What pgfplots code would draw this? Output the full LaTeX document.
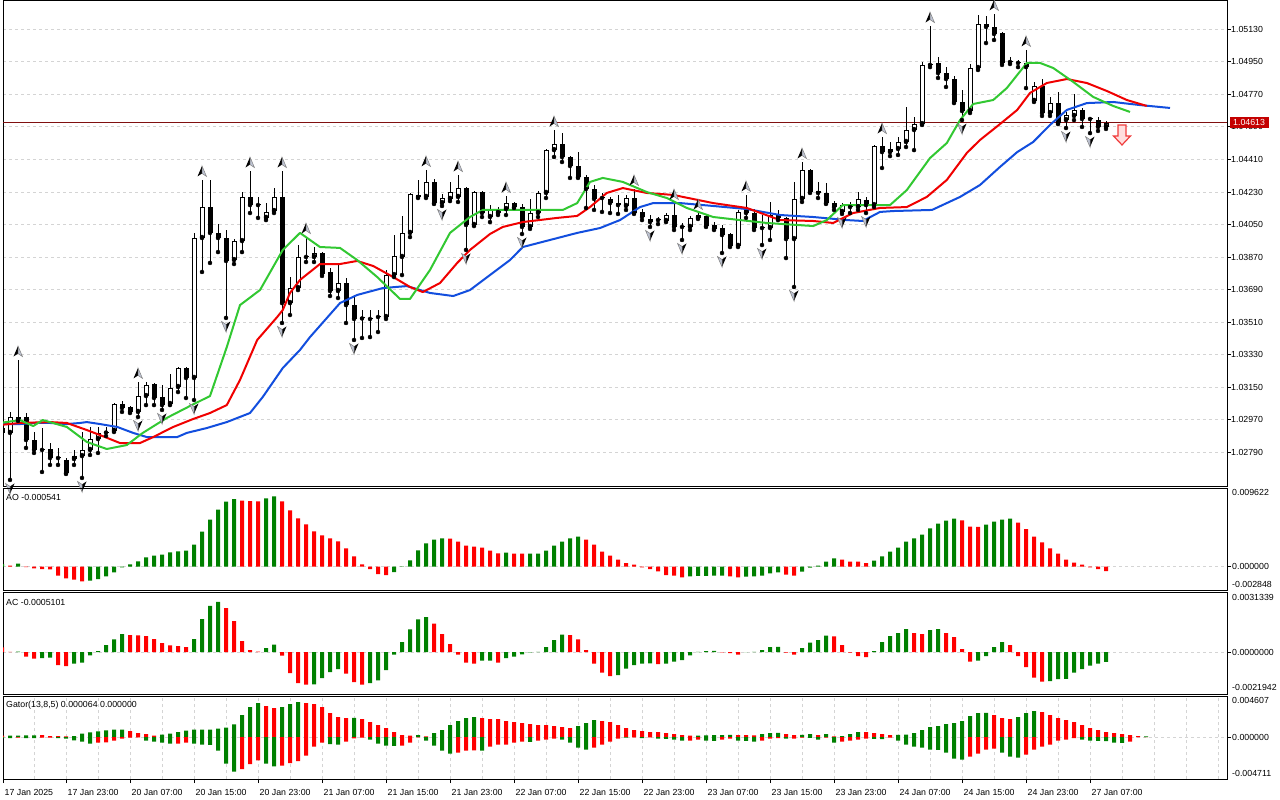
\documentclass[border=0pt]{standalone}
\usepackage{fontspec}
\setmainfont{Liberation Sans}
\usepackage{pgfplots}
\usepackage{pgfplotstable}
\pgfplotsset{compat=1.18}
\definecolor{jawblue}{RGB}{18,78,222}
\definecolor{teethred}{RGB}{240,0,0}
\definecolor{lipsgreen}{RGB}{50,200,50}
\definecolor{mtgreen}{RGB}{0,128,0}
\definecolor{mtred}{RGB}{255,0,0}
\definecolor{gridgray}{RGB}{212,212,212}
\definecolor{pricered}{RGB}{196,0,0}
\definecolor{priceline}{RGB}{128,16,16}
\definecolor{fracgray}{RGB}{190,196,212}
\definecolor{sellred}{RGB}{240,60,60}
\definecolor{sellpink}{RGB}{255,222,222}
\newcommand\tl{\fontsize{8.8}{10}\selectfont}

\pgfdeclareplotmark{fracup}{%
  \pgfpathmoveto{\pgfqpoint{0pt}{14pt}}\pgfpathlineto{\pgfqpoint{-4.5pt}{3.5pt}}\pgfpathlineto{\pgfqpoint{0pt}{6.5pt}}\pgfpathclose
  \pgfsetfillcolor{black}\pgfusepathqfill
  \pgfpathmoveto{\pgfqpoint{0pt}{14pt}}\pgfpathlineto{\pgfqpoint{4.5pt}{3.5pt}}\pgfpathlineto{\pgfqpoint{0pt}{6.5pt}}\pgfpathclose
  \pgfsetfillcolor{fracgray}\pgfsetstrokecolor{gray}\pgfsetlinewidth{0.5pt}\pgfusepathqfillstroke}
\pgfdeclareplotmark{fracdn}{%
  \pgfpathmoveto{\pgfqpoint{0pt}{-14pt}}\pgfpathlineto{\pgfqpoint{4.5pt}{-3.5pt}}\pgfpathlineto{\pgfqpoint{0pt}{-6.5pt}}\pgfpathclose
  \pgfsetfillcolor{black}\pgfusepathqfill
  \pgfpathmoveto{\pgfqpoint{0pt}{-14pt}}\pgfpathlineto{\pgfqpoint{-4.5pt}{-3.5pt}}\pgfpathlineto{\pgfqpoint{0pt}{-6.5pt}}\pgfpathclose
  \pgfsetfillcolor{fracgray}\pgfsetstrokecolor{gray}\pgfsetlinewidth{0.5pt}\pgfusepathqfillstroke}
\pgfdeclareplotmark{sellarrow}{%
  \pgfpathmoveto{\pgfqpoint{-4pt}{0pt}}\pgfpathlineto{\pgfqpoint{4pt}{0pt}}\pgfpathlineto{\pgfqpoint{4pt}{-11pt}}%
  \pgfpathlineto{\pgfqpoint{8.5pt}{-11pt}}\pgfpathlineto{\pgfqpoint{0pt}{-20pt}}\pgfpathlineto{\pgfqpoint{-8.5pt}{-11pt}}%
  \pgfpathlineto{\pgfqpoint{-4pt}{-11pt}}\pgfpathclose
  \pgfsetfillcolor{sellpink}\pgfsetstrokecolor{sellred}\pgfsetlinewidth{1.2pt}\pgfusepathqfillstroke}

\pgfplotstableread{
k o h l c
0 1.02925 1.02942 1.02881 1.02898
1 1.02898 1.03014 1.02638 1.02986
2 1.02986 1.03301 1.02964 1.02969
3 1.02986 1.03008 1.02815 1.02859
4 1.02859 1.02903 1.02787 1.02804
5 1.02804 1.02925 1.02682 1.02806
6 1.02809 1.02842 1.02721 1.02759
7 1.02759 1.02815 1.02721 1.02765
8 1.02748 1.02759 1.02671 1.02676
9 1.02754 1.02804 1.02721 1.02770
10 1.02770 1.02903 1.02649 1.02804
11 1.02804 1.02931 1.02776 1.02864
12 1.02864 1.02931 1.02787 1.02898
13 1.02900 1.02931 1.02881 1.02903
14 1.02909 1.03063 1.02903 1.03058
15 1.03058 1.03075 1.03014 1.03036
16 1.03041 1.03047 1.03008 1.03014
17 1.03014 1.03180 1.02986 1.03102
18 1.03102 1.03180 1.03052 1.03163
19 1.03169 1.03174 1.03052 1.03091
20 1.03097 1.03163 1.03025 1.03052
21 1.03058 1.03224 1.03052 1.03146
22 1.03152 1.03263 1.03124 1.03257
23 1.03257 1.03263 1.03091 1.03202
24 1.03202 1.04004 1.03080 1.03976
25 1.03976 1.04297 1.03788 1.04147
26 1.04147 1.04297 1.03838 1.04004
27 1.04004 1.04053 1.03898 1.03976
28 1.03976 1.04020 1.03534 1.03849
29 1.03854 1.03970 1.03832 1.03959
30 1.03959 1.04230 1.03898 1.04203
31 1.04203 1.04346 1.04114 1.04158
32 1.04158 1.04203 1.04087 1.04160
33 1.04087 1.04169 1.04075 1.04120
34 1.04125 1.04252 1.04114 1.04203
35 1.04203 1.04346 1.03506 1.03616
36 1.03616 1.03760 1.03550 1.03699
37 1.03699 1.03937 1.03688 1.03871
38 1.03871 1.03981 1.03843 1.03874
39 1.03871 1.03926 1.03843 1.03893
40 1.03893 1.03898 1.03766 1.03777
41 1.03788 1.03810 1.03655 1.03683
42 1.03683 1.03832 1.03644 1.03727
43 1.03727 1.03755 1.03506 1.03605
44 1.03605 1.03650 1.03412 1.03528
45 1.03534 1.03578 1.03423 1.03531
46 1.03528 1.03578 1.03428 1.03531
47 1.03539 1.03578 1.03456 1.03542
48 1.03539 1.03799 1.03528 1.03771
49 1.03771 1.03992 1.03760 1.03876
50 1.03871 1.04098 1.03771 1.04004
51 1.04004 1.04225 1.03981 1.04219
52 1.04214 1.04297 1.04197 1.04203
53 1.04203 1.04352 1.04197 1.04286
54 1.04286 1.04302 1.04164 1.04169
55 1.04169 1.04219 1.04153 1.04197
56 1.04192 1.04286 1.04180 1.04230
57 1.04203 1.04324 1.04175 1.04252
58 1.04252 1.04258 1.03910 1.04048
59 1.04048 1.04236 1.04042 1.04230
60 1.04230 1.04236 1.04092 1.04114
61 1.04092 1.04158 1.04064 1.04136
62 1.04114 1.04147 1.04103 1.04136
63 1.04136 1.04208 1.04103 1.04169
64 1.04169 1.04175 1.04142 1.04147
65 1.04147 1.04164 1.03998 1.04037
66 1.04037 1.04192 1.04026 1.04114
67 1.04114 1.04236 1.04092 1.04225
68 1.04225 1.04468 1.04197 1.04462
69 1.04462 1.04573 1.04424 1.04496
70 1.04496 1.04556 1.04396 1.04424
71 1.04424 1.04430 1.04308 1.04374
72 1.04374 1.04451 1.04308 1.04313
73 1.04313 1.04324 1.04142 1.04247
74 1.04247 1.04269 1.04131 1.04192
75 1.04197 1.04225 1.04120 1.04200
76 1.04192 1.04203 1.04114 1.04169
77 1.04169 1.04214 1.04109 1.04158
78 1.04153 1.04214 1.04131 1.04197
79 1.04197 1.04247 1.04109 1.04114
80 1.04120 1.04136 1.04075 1.04092
81 1.04081 1.04103 1.04037 1.04064
82 1.04075 1.04092 1.04053 1.04078
83 1.04070 1.04114 1.04064 1.04103
84 1.04103 1.04169 1.04020 1.04037
85 1.04037 1.04059 1.03965 1.04040
86 1.04037 1.04098 1.04020 1.04087
87 1.04087 1.04114 1.04081 1.04103
88 1.04098 1.04109 1.04037 1.04042
89 1.04048 1.04064 1.04020 1.04026
90 1.04031 1.04048 1.03893 1.03992
91 1.03998 1.04004 1.03926 1.03932
92 1.03932 1.04131 1.03926 1.04120
93 1.04114 1.04214 1.04087 1.04131
94 1.04114 1.04136 1.04020 1.04031
95 1.04037 1.04103 1.03937 1.04031
96 1.04031 1.04175 1.03965 1.04103
97 1.04109 1.04131 1.04075 1.04087
98 1.04087 1.04092 1.03865 1.03970
99 1.03970 1.04286 1.03705 1.04192
100 1.04192 1.04396 1.04175 1.04352
101 1.04352 1.04357 1.04225 1.04230
102 1.04236 1.04286 1.04197 1.04225
103 1.04225 1.04280 1.04164 1.04169
104 1.04169 1.04180 1.04131 1.04147
105 1.04120 1.04169 1.04109 1.04158
106 1.04147 1.04175 1.04114 1.04150
107 1.04147 1.04230 1.04131 1.04192
108 1.04186 1.04203 1.04114 1.04158
109 1.04158 1.04490 1.04147 1.04485
110 1.04485 1.04534 1.04363 1.04451
111 1.04451 1.04507 1.04429 1.04468
112 1.04468 1.04534 1.04435 1.04507
113 1.04507 1.04700 1.04479 1.04573
114 1.04573 1.04645 1.04462 1.04606
115 1.04606 1.04949 1.04601 1.04933
116 1.04933 1.05148 1.04921 1.04938
117 1.04944 1.04977 1.04861 1.04888
118 1.04888 1.04921 1.04811 1.04855
119 1.04855 1.04872 1.04722 1.04728
120 1.04728 1.04794 1.04628 1.04678
121 1.04678 1.04938 1.04667 1.04916
122 1.04916 1.05209 1.04905 1.05159
123 1.05159 1.05204 1.05054 1.05143
124 1.05143 1.05215 1.05071 1.05104
125 1.05110 1.05115 1.04933 1.04944
126 1.04949 1.04977 1.04938 1.04952
127 1.04944 1.04960 1.04921 1.04947
128 1.04944 1.05016 1.04805 1.04921
129 1.04734 1.04839 1.04728 1.04816
130 1.04816 1.04855 1.04651 1.04667
131 1.04667 1.04756 1.04651 1.04722
132 1.04722 1.04783 1.04606 1.04612
133 1.04628 1.04673 1.04584 1.04656
134 1.04651 1.04772 1.04628 1.04684
135 1.04684 1.04695 1.04590 1.04634
136 1.04634 1.04645 1.04556 1.04637
137 1.04628 1.04645 1.04568 1.04590
138 1.04590 1.04623 1.04579 1.04613
}\candles

\pgfplotstableread{
k p
-0.25 1.02947
2.25 1.02947
3.9 1.02953
6 1.02953
8.1 1.02947
9.75 1.02953
10.6 1.02958
12.25 1.02947
14.4 1.02931
16.4 1.02898
18.1 1.02875
21.9 1.02875
23.1 1.02898
25.6 1.02925
28.1 1.02958
31 1.03008
32.6 1.03097
35.1 1.03257
37.25 1.03357
38.5 1.03428
42.25 1.03616
44.4 1.03661
47.6 1.03699
50.6 1.03710
53.5 1.03672
56.4 1.03655
58.5 1.03688
61 1.03771
63.5 1.03854
65.1 1.03926
68.5 1.03965
71.9 1.04004
74.75 1.04031
77.25 1.04075
79.75 1.04147
81.4 1.04169
84.75 1.04169
88.9 1.04153
93.1 1.04136
97.25 1.04103
101.4 1.04092
105.6 1.04075
107.6 1.04070
109.75 1.04120
111.4 1.04125
116.25 1.04131
119.75 1.04203
122.25 1.04269
124.75 1.04369
126.9 1.04451
128.9 1.04507
131 1.04601
133.1 1.04684
135.6 1.04722
138.9 1.04728
142.25 1.04711
146 1.04695
}\jaw

\pgfplotstableread{
k p
-0.25 1.02942
2.25 1.02953
6 1.02958
8.1 1.02953
10.6 1.02914
12.25 1.02886
14.75 1.02842
17.25 1.02842
18.9 1.02875
21.4 1.02931
23.9 1.02975
26 1.03008
28.1 1.03052
29.75 1.03191
31.9 1.03412
34.4 1.03539
35.1 1.03578
36 1.03672
37.25 1.03744
39.75 1.03832
42.25 1.03832
44.4 1.03849
46.4 1.03821
48.9 1.03760
51 1.03705
52.6 1.03677
54.75 1.03727
56.9 1.03838
58.5 1.03910
61 1.03998
62.6 1.04037
65.1 1.04064
69.4 1.04087
71.9 1.04098
73.5 1.04147
75.6 1.04225
77.6 1.04252
80.6 1.04225
83.9 1.04214
88.9 1.04169
93.1 1.04142
97.25 1.04075
101.4 1.04070
103.9 1.04059
106.4 1.04114
109.75 1.04142
113.1 1.04147
115.6 1.04203
118.1 1.04297
120.6 1.04446
122.25 1.04518
124.75 1.04606
126.9 1.04684
128.5 1.04778
130.6 1.04833
133.1 1.04855
135.6 1.04833
138.1 1.04789
140.6 1.04739
143.1 1.04706
}\teeth

\pgfplotstableread{
k p
-0.25 1.02953
2.25 1.02969
3.9 1.02936
5.1 1.02969
8.1 1.02931
10.6 1.02848
13.1 1.02809
15.6 1.02831
17.6 1.02898
20.6 1.02981
23.5 1.03047
26 1.03102
28.1 1.03373
29.75 1.03605
32.25 1.03688
35.1 1.03910
37.25 1.04004
39.75 1.03926
42.25 1.03921
44.4 1.03854
46.9 1.03760
49.75 1.03639
51 1.03639
53.5 1.03799
56 1.04004
58.5 1.04092
60.1 1.04131
70.1 1.04131
71.9 1.04169
73.5 1.04286
75.1 1.04308
77.6 1.04286
80.6 1.04230
83.1 1.04197
85.6 1.04142
88.9 1.04092
92.25 1.04075
95.6 1.04059
101.4 1.04042
103.1 1.04075
105.1 1.04158
111 1.04158
113.1 1.04241
116 1.04418
118.1 1.04501
119.75 1.04628
121.4 1.04717
123.9 1.04739
125.6 1.04805
128.1 1.04944
129.75 1.04944
131.4 1.04916
133.9 1.04839
136.4 1.04756
138.9 1.04706
141 1.04673
}\lips

\pgfplotstableread{
k p
2 1.03301
17 1.03180
25 1.04297
31 1.04346
35 1.04346
38 1.03981
53 1.04352
57 1.04324
63 1.04208
69 1.04573
79 1.04247
84 1.04169
87 1.04114
93 1.04214
100 1.04396
110 1.04534
116 1.05148
124 1.05215
128 1.05016
}\fup

\pgfplotstableread{
k p
1 1.02638
10 1.02649
17 1.02986
20 1.03025
24 1.03080
28 1.03534
35 1.03506
44 1.03412
55 1.04153
58 1.03910
65 1.03998
81 1.04037
85 1.03965
90 1.03893
95 1.03937
99 1.03705
105 1.04109
108 1.04114
120 1.04628
133 1.04584
136 1.04556
}\fdn

\pgfplotstableread{
k v g
0 0.000326 1
1 0.000122 0
2 0.000367 1
3 -0.000041 0
4 -0.000204 0
5 -0.000285 0
6 -0.000326 0
7 -0.001100 0
8 -0.001426 0
9 -0.001589 0
10 -0.001793 0
11 -0.001712 1
12 -0.001508 1
13 -0.001182 1
14 -0.000693 1
15 -0.000082 1
16 0.000285 1
17 0.000652 1
18 0.001141 1
19 0.001345 1
20 0.001467 1
21 0.001752 1
22 0.001875 1
23 0.001956 1
24 0.002690 1
25 0.004279 1
26 0.005746 1
27 0.006968 1
28 0.007946 1
29 0.008272 1
30 0.008069 0
31 0.008007 0
32 0.007987 0
33 0.008354 1
34 0.008598 1
35 0.007987 0
36 0.006887 0
37 0.005909 0
38 0.005175 0
39 0.004320 0
40 0.003831 0
41 0.003464 0
42 0.003097 0
43 0.002241 0
44 0.001263 0
45 0.000285 0
46 -0.000285 0
47 -0.000897 0
48 -0.001019 0
49 -0.000652 1
50 0.000041 1
51 0.000774 1
52 0.001997 1
53 0.002853 1
54 0.003301 1
55 0.003464 1
56 0.003423 0
57 0.003056 0
58 0.002567 0
59 0.002445 0
60 0.002323 0
61 0.001956 0
62 0.001630 0
63 0.001712 1
64 0.001610 0
65 0.001589 0
66 0.001601 1
67 0.001614 1
68 0.001956 1
69 0.002567 1
70 0.003056 1
71 0.003464 1
72 0.003668 1
73 0.003301 0
74 0.002690 0
75 0.001834 0
76 0.001345 0
77 0.000856 0
78 0.000448 0
79 0.000245 0
80 -0.000082 0
81 -0.000285 0
82 -0.000571 0
83 -0.001019 0
84 -0.001100 0
85 -0.001304 0
86 -0.001182 1
87 -0.001121 1
88 -0.001108 1
89 -0.001100 1
90 -0.001092 1
91 -0.001182 0
92 -0.001304 0
93 -0.001223 1
94 -0.001182 1
95 -0.001100 1
96 -0.000815 1
97 -0.000693 1
98 -0.000978 0
99 -0.001100 0
100 -0.000611 1
101 -0.000122 1
102 0.000122 1
103 0.000611 1
104 0.001019 1
105 0.000856 0
106 0.000632 0
107 0.000611 0
108 0.000448 0
109 0.000734 1
110 0.001263 1
111 0.001834 1
112 0.002323 1
113 0.003056 1
114 0.003464 1
115 0.003912 1
116 0.004686 1
117 0.005257 1
118 0.005624 1
119 0.005868 1
120 0.005664 0
121 0.004890 0
122 0.004870 0
123 0.005135 1
124 0.005501 1
125 0.005746 1
126 0.005868 1
127 0.005379 0
128 0.004605 0
129 0.003668 0
130 0.002975 0
131 0.002241 0
132 0.001589 0
133 0.000856 0
134 0.000489 0
135 0.000245 0
136 -0.000082 0
137 -0.000285 0
138 -0.000541 0
}\aotab

\pgfplotstableread{
k v g
0 0.0002438 0
1 0.0000087 0
2 0.0000174 1
3 -0.0002438 0
4 -0.0003483 0
5 -0.0003134 1
6 -0.0002960 1
7 -0.0006791 0
8 -0.0007313 0
9 -0.0006095 1
10 -0.0005572 1
11 -0.0001741 1
12 0.0000522 1
13 0.0003657 1
14 0.0006617 1
15 0.0009403 1
16 0.0008881 0
17 0.0008707 0
18 0.0008358 0
19 0.0006791 0
20 0.0004702 0
21 0.0003483 0
22 0.0003134 0
23 0.0002612 0
24 0.0006791 1
25 0.0017239 1
26 0.0024030 1
27 0.0026120 1
28 0.0022985 0
29 0.0016194 0
30 0.0005746 0
31 0.0001045 0
32 0.0000174 0
33 0.0002090 1
34 0.0003831 1
35 -0.0001915 0
36 -0.0010970 0
37 -0.0016194 0
38 -0.0017065 0
39 -0.0016891 1
40 -0.0013582 1
41 -0.0010448 1
42 -0.0008881 1
43 -0.0011318 0
44 -0.0015672 0
45 -0.0017065 0
46 -0.0016194 1
47 -0.0014801 1
48 -0.0009403 1
49 -0.0001393 1
50 0.0005224 1
51 0.0011841 1
52 0.0017065 1
53 0.0018284 1
54 0.0014801 0
55 0.0009403 0
56 0.0004179 0
57 -0.0001393 0
58 -0.0005572 0
59 -0.0006095 0
60 -0.0004527 1
61 -0.0004440 1
62 -0.0005572 0
63 -0.0003134 1
64 -0.0002438 1
65 -0.0001219 1
66 -0.0000174 1
67 0.0000087 1
68 0.0002612 1
69 0.0006269 1
70 0.0009055 1
71 0.0008881 0
72 0.0006617 0
73 0.0001045 0
74 -0.0006095 0
75 -0.0010796 0
76 -0.0012537 0
77 -0.0012015 1
78 -0.0008707 1
79 -0.0006791 1
80 -0.0006095 1
81 -0.0005920 1
82 -0.0006269 0
83 -0.0006095 1
84 -0.0005050 1
85 -0.0004179 1
86 -0.0001741 1
87 0.0000087 1
88 0.0000522 1
89 0.0000609 1
90 -0.0000174 0
91 -0.0000522 0
92 -0.0001393 0
93 -0.0000087 1
94 0.0000087 1
95 0.0001045 1
96 0.0002612 1
97 0.0002699 1
98 -0.0000348 0
99 -0.0001393 0
100 0.0002090 1
101 0.0004876 1
102 0.0006269 1
103 0.0008532 1
104 0.0008184 0
105 0.0003657 0
106 -0.0000348 0
107 -0.0002090 0
108 -0.0002612 0
109 0.0000522 1
110 0.0005224 1
111 0.0008358 1
112 0.0009925 1
113 0.0012015 1
114 0.0009925 0
115 0.0009403 0
116 0.0011493 1
117 0.0012015 1
118 0.0009925 0
119 0.0007836 0
120 0.0001567 0
121 -0.0005050 0
122 -0.0004527 1
123 -0.0002090 1
124 0.0002612 1
125 0.0005224 1
126 0.0003657 0
127 -0.0002090 0
128 -0.0007836 0
129 -0.0013408 0
130 -0.0015498 0
131 -0.0015149 1
132 -0.0014105 1
133 -0.0014017 1
134 -0.0010796 1
135 -0.0008881 1
136 -0.0007139 1
137 -0.0006095 1
138 -0.0005101 1
}\actab

\pgfplotstableread{
k u ug l lg
0 0.000150 0 -0.000112 1
1 0.000150 1 -0.000112 1
2 0.000150 1 -0.000075 0
3 0.000187 1 -0.000112 1
4 0.000187 1 -0.000112 1
5 0.000225 0 -0.000075 0
6 0.000112 0 -0.000075 0
7 0.000112 0 -0.000112 1
8 0.000075 0 -0.000187 1
9 0.000112 1 -0.000374 1
10 0.000374 1 -0.000524 1
11 0.000524 1 -0.000748 1
12 0.000636 1 -0.000636 0
13 0.000748 1 -0.000599 0
14 0.000823 1 -0.000412 0
15 0.000842 1 -0.000187 0
16 0.000674 0 -0.000075 0
17 0.000449 0 -0.000037 0
18 0.000337 0 -0.000412 1
19 0.000150 0 -0.000524 1
20 0.000262 1 -0.000636 1
21 0.000374 1 -0.000748 1
22 0.000561 1 -0.000730 0
23 0.000711 1 -0.000636 0
24 0.000823 1 -0.000748 1
25 0.000834 1 -0.000861 1
26 0.000846 1 -0.000868 1
27 0.000936 1 -0.001534 1
28 0.001048 1 -0.002994 1
29 0.001422 1 -0.003892 1
30 0.002470 1 -0.003593 0
31 0.003368 1 -0.003031 0
32 0.003817 1 -0.002620 0
33 0.003480 0 -0.002994 1
34 0.003256 0 -0.003293 1
35 0.003368 1 -0.003218 0
36 0.003705 1 -0.002919 0
37 0.003929 1 -0.002694 0
38 0.003817 0 -0.002096 0
39 0.003705 0 -0.001085 0
40 0.003368 0 -0.000636 0
41 0.002694 0 -0.000786 1
42 0.002245 0 -0.000861 1
43 0.002133 0 -0.000524 0
44 0.002152 1 -0.000150 0
45 0.002021 0 -0.000075 0
46 0.001684 0 -0.000299 1
47 0.001347 0 -0.000748 1
48 0.001010 0 -0.000973 1
49 0.000561 0 -0.000992 1
50 0.000225 0 -0.000973 0
51 0.000150 0 -0.000636 0
52 0.000225 1 -0.000037 0
53 0.000075 0 -0.000412 1
54 0.000449 1 -0.000973 1
55 0.000786 1 -0.001534 1
56 0.001347 1 -0.001871 1
57 0.001796 1 -0.001759 0
58 0.002133 1 -0.001534 0
59 0.002245 1 -0.001497 0
60 0.002133 0 -0.001534 1
61 0.002021 0 -0.001085 0
62 0.002002 0 -0.000861 0
63 0.001796 0 -0.000842 0
64 0.001684 0 -0.000636 0
65 0.001572 0 -0.000524 0
66 0.001459 0 -0.000543 1
67 0.001347 0 -0.000412 0
68 0.001328 0 -0.000299 0
69 0.001235 0 -0.000187 0
70 0.001123 0 -0.000299 1
71 0.001010 0 -0.000636 1
72 0.001235 1 -0.001198 1
73 0.001572 1 -0.001422 1
74 0.001909 1 -0.001198 0
75 0.001796 0 -0.000861 0
76 0.001684 0 -0.000524 0
77 0.001347 0 -0.000187 0
78 0.001010 0 -0.000075 1
79 0.000786 0 -0.000037 0
80 0.000674 0 -0.000112 1
81 0.000561 0 -0.000037 0
82 0.000543 0 -0.000187 1
83 0.000449 0 -0.000206 1
84 0.000337 0 -0.000299 1
85 0.000225 0 -0.000412 1
86 0.000150 0 -0.000393 0
87 0.000168 1 -0.000299 0
88 0.000187 1 -0.000412 1
89 0.000206 1 -0.000430 1
90 0.000225 1 -0.000299 0
91 0.000243 1 -0.000187 0
92 0.000225 0 -0.000412 1
93 0.000206 0 -0.000430 1
94 0.000187 0 -0.000524 1
95 0.000337 1 -0.000412 0
96 0.000449 1 -0.000187 0
97 0.000468 1 -0.000112 0
98 0.000337 0 -0.000187 1
99 0.000225 0 -0.000168 0
100 0.000243 1 -0.000075 0
101 0.000337 1 -0.000094 1
102 0.000225 0 -0.000299 1
103 0.000337 1 -0.000075 0
104 0.000075 0 -0.000636 1
105 0.000112 1 -0.000524 0
106 0.000337 1 -0.000412 0
107 0.000561 1 -0.000299 0
108 0.000543 0 -0.000187 0
109 0.000449 0 -0.000206 1
110 0.000337 0 -0.000225 1
111 0.000225 0 -0.000075 0
112 0.000243 1 -0.000412 1
113 0.000262 1 -0.000861 1
114 0.000449 1 -0.001085 1
115 0.000786 1 -0.001198 1
116 0.001123 1 -0.001422 1
117 0.001235 1 -0.001441 1
118 0.001459 1 -0.001759 1
119 0.001572 1 -0.002432 1
120 0.001796 1 -0.002545 1
121 0.002358 1 -0.002208 0
122 0.002694 1 -0.001871 0
123 0.002713 1 -0.001422 0
124 0.002470 0 -0.001310 0
125 0.002133 0 -0.001759 1
126 0.002021 0 -0.002208 1
127 0.002245 1 -0.002320 1
128 0.002694 1 -0.001983 0
129 0.002919 1 -0.001422 0
130 0.002807 0 -0.001085 0
131 0.002470 0 -0.000861 0
132 0.002133 0 -0.000412 0
133 0.001909 0 -0.000299 0
134 0.001684 0 -0.000112 0
135 0.001347 0 -0.000299 1
136 0.001010 0 -0.000412 1
137 0.000786 0 -0.000430 1
138 0.000561 0 -0.000449 1
139 0.000449 0 -0.000636 1
140 0.000337 0 -0.000655 1
141 0.000225 0 -0.000524 0
142 0.000112 0 0 0
143 0.000064 1 0 0
}\gatortab

\pgfplotsset{
  mtpanel/.style={
    scale only axis, width=1224pt,
    xmin=0.125, xmax=153.125,
    axis line style={line width=1pt, black},
    minor xtick={4,8,...,152},
    xminorgrids=true,
    minor grid style={gridgray, line width=1pt, dash pattern=on 3pt off 3pt},
    major grid style={gridgray, line width=1pt, dash pattern=on 3pt off 3pt},
    minor tick length=0pt,
    major tick length=4pt,
    tick align=outside,
    tick style={black, line width=1pt},
    ytick pos=right, yticklabel pos=right,
    xtick pos=left,
    scaled y ticks=false,
    ticklabel style={font=\tl},
    yticklabel style={anchor=west, inner sep=0pt},
    clip mode=global,
  },
  histbar/.style={ybar, bar width=4pt, bar shift=0pt, draw=none, forget plot},
}

\begin{document}
\begin{tikzpicture}[x=1pt,y=1pt]
\useasboundingbox (0,0) rectangle (1280,-800);
\fill[white] (0,0) rectangle (1280,-800);
\coordinate (mainTL) at (3,-1);
\coordinate (aoTL) at (3,-488);
\coordinate (acTL) at (3,-592);
\coordinate (gtTL) at (3,-696);

% ---------------- main price panel ----------------
\begin{axis}[mtpanel, at={(mainTL)}, anchor=north west, height=485pt,
  ymin=1.026044, ymax=1.052865,
  xtick=\empty,
  ytick={1.0279,1.0297,1.0315,1.0333,1.0351,1.0369,1.0387,1.0405,1.0423,1.0441,1.0459,1.0477,1.0495,1.0513},
  yticklabels={1.02790,1.02970,1.03150,1.03330,1.03510,1.03690,1.03870,1.04050,1.04230,1.04410,1.04590,1.04770,1.04950,1.05130},
  ymajorgrids=true,
]
\addplot[priceline, line width=1pt, forget plot] coordinates {(0.125,1.04613) (153.125,1.04613)};
% wicks
\addplot[only marks, mark=none, forget plot,
  error bars/.cd, y dir=plus, y explicit, error mark=none,
  error bar style={draw=black, line width=1pt}]
  table[x=k, y=l, y error plus expr={\thisrow{h}-\thisrow{l}}] {\candles};
% bodies
\addplot[only marks, mark=none, forget plot,
  error bars/.cd, y dir=plus, y explicit, error mark=none,
  error bar style={draw=black, line width=5pt}]
  table[x=k, y expr={min(\thisrow{o},\thisrow{c})}, y error plus expr={max(abs(\thisrow{c}-\thisrow{o}),0.000056)}] {\candles};
% hollow (bullish) interiors
\addplot[only marks, mark=none, forget plot,
  restrict expr to domain={\thisrow{c}-\thisrow{o}}{0.000115:1},
  error bars/.cd, y dir=plus, y explicit, error mark=none,
  error bar style={draw=white, line width=3pt}]
  table[x=k, y expr={\thisrow{o}+0.0000553}, y error plus expr={\thisrow{c}-\thisrow{o}-0.0001106}] {\candles};
% alligator
\addplot[jawblue, line width=2pt, line join=round, forget plot] table[x=k,y=p] {\jaw};
\addplot[teethred, line width=2pt, line join=round, forget plot] table[x=k,y=p] {\teeth};
\addplot[lipsgreen, line width=2pt, line join=round, forget plot] table[x=k,y=p] {\lips};
% fractals
\addplot[only marks, mark=fracup, forget plot] table[x=k,y=p] {\fup};
\addplot[only marks, mark=fracdn, forget plot] table[x=k,y=p] {\fdn};
% sell signal
\addplot[only marks, mark=sellarrow, forget plot] coordinates {(140,1.04601)};
\coordinate (cp) at (axis cs:153.125,1.04613);
\end{axis}
\node[fill=pricered, text=white, font=\tl, inner xsep=3.5pt, inner ysep=2.2pt, anchor=west] at ([xshift=2.5pt]cp) {1.04613};

% ---------------- AO ----------------
\begin{axis}[mtpanel, at={(aoTL)}, anchor=north west, height=102pt,
  ymin=-0.002848, ymax=0.009622,
  xtick=\empty, ytick={0}, yticklabels={}, ymajorgrids=true]
\addplot[histbar, fill=mtgreen, restrict expr to domain={\thisrow{g}}{0.5:1.5}] table[x=k,y=v] {\aotab};
\addplot[histbar, fill=mtred, restrict expr to domain={\thisrow{g}}{-0.5:0.5}] table[x=k,y=v] {\aotab};
\end{axis}

% ---------------- AC ----------------
\begin{axis}[mtpanel, at={(acTL)}, anchor=north west, height=102pt,
  ymin=-0.0021942, ymax=0.0031339,
  xtick=\empty, ytick={0}, yticklabels={}, ymajorgrids=true]
\addplot[histbar, fill=mtgreen, restrict expr to domain={\thisrow{g}}{0.5:1.5}] table[x=k,y=v] {\actab};
\addplot[histbar, fill=mtred, restrict expr to domain={\thisrow{g}}{-0.5:0.5}] table[x=k,y=v] {\actab};
\end{axis}

% ---------------- Gator ----------------
\begin{axis}[mtpanel, at={(gtTL)}, anchor=north west, height=83pt,
  ymin=-0.004711, ymax=0.004607,
  ytick={0}, yticklabels={}, ymajorgrids=true,
  xtick={0.125,8,16,24,32,40,48,56,64,72,80,88,96,104,112,120,128,136},
  xticklabels={17 Jan 2025,17 Jan 23:00,20 Jan 07:00,20 Jan 15:00,20 Jan 23:00,21 Jan 07:00,21 Jan 15:00,21 Jan 23:00,22 Jan 07:00,22 Jan 15:00,22 Jan 23:00,23 Jan 07:00,23 Jan 15:00,23 Jan 23:00,24 Jan 07:00,24 Jan 15:00,24 Jan 23:00,27 Jan 07:00},
  xticklabel style={anchor=base west, inner sep=0pt, xshift=1.5pt, yshift=-12pt},
]
\addplot[histbar, fill=mtgreen, restrict expr to domain={\thisrow{ug}}{0.5:1.5}] table[x=k,y=u] {\gatortab};
\addplot[histbar, fill=mtred, restrict expr to domain={\thisrow{ug}}{-0.5:0.5}] table[x=k,y=u] {\gatortab};
\addplot[histbar, fill=mtgreen, restrict expr to domain={\thisrow{lg}}{0.5:1.5}] table[x=k,y=l] {\gatortab};
\addplot[histbar, fill=mtred, restrict expr to domain={\thisrow{lg}}{-0.5:0.5}] table[x=k,y=l] {\gatortab};
\end{axis}

% panel titles
\node[anchor=base west, font=\tl, inner sep=0pt] at (6,-500.3) {AO -0.000541};
\node[anchor=base west, font=\tl, inner sep=0pt] at (6,-605) {AC -0.0005101};
\node[anchor=base west, font=\tl, inner sep=0pt] at (6,-707.5) {Gator(13,8,5) 0.000064 0.000000};

% indicator scale labels
\begin{scope}[every node/.style={anchor=west, font=\tl, inner sep=0pt}]
\node at (1232,-492) {0.009622};
\node at (1232,-566) {0.000000};
\node at (1232,-584.5) {-0.002848};
\node at (1232,-597.3) {0.0031339};
\node at (1232,-652) {0.0000000};
\node at (1232,-687.5) {-0.0021942};
\node at (1232,-700.5) {0.004607};
\node at (1232,-737) {0.000000};
\node at (1232,-773.3) {-0.004711};
\end{scope}
\end{tikzpicture}
\end{document}
